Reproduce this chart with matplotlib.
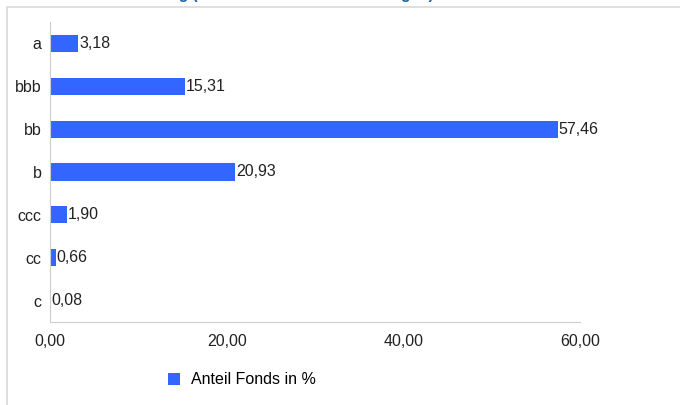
import matplotlib.pyplot as plt
from matplotlib.patches import Rectangle

plt.rcParams['font.family'] = ['Liberation Sans', 'DejaVu Sans']

# DATA
categories = ['a', 'bbb', 'bb', 'b', 'ccc', 'cc', 'c']
values = [3.18, 15.31, 57.46, 20.93, 1.90, 0.66, 0.08]
xticks = [0, 20, 40, 60]
series_name = 'Anteil Fonds in %'
title = 'Rating (Anteil in % am Fondsvermögen)'

bar_color = '#3366ff'
W, H = 680, 405

fig = plt.figure(figsize=(W / 100, H / 100), dpi=100)

# outer frame of the widget (cut off at right and bottom)
fig.add_artist(Rectangle((7 / W, -0.1), 1.1, (H - 7) / H + 0.1, transform=fig.transFigure,
                         fill=False, edgecolor='#d9d9d9', linewidth=1.2))

# title, cut off at the top edge (only descenders visible)
fig.text(140 / W, 1 + 1.2 / H, title, color='#1f5fa8',
         fontsize=11.2, fontweight='bold', ha='left', va='baseline')

ax = fig.add_axes([50 / W, (H - 322) / H, 530 / W, 300 / H])
ypos = list(range(len(categories)))
ax.barh(ypos, values, height=0.4, color=bar_color, label=series_name)
for y, v in zip(ypos, values):
    ax.text(v + 0.1, y, '{:.2f}'.format(v).replace('.', ','), va='center', ha='left',
            fontsize=11.5, color='#222222')

ax.set_xlim(0, 60)
ax.set_ylim(len(categories) - 0.5, -0.5)
ax.set_yticks(ypos)
ax.set_yticklabels(categories)
ax.set_xticks(xticks)
ax.set_xticklabels(['{:.2f}'.format(t).replace('.', ',') for t in xticks])
ax.tick_params(length=0, labelsize=11.5, colors='#222222')
ax.tick_params(axis='x', pad=9)
ax.tick_params(axis='y', pad=6)
for s in ['top', 'right']:
    ax.spines[s].set_visible(False)
for s in ['left', 'bottom']:
    ax.spines[s].set_color('#cccccc')

fig.legend(loc='center left', bbox_to_anchor=(154 / W, (H - 380) / H), frameon=False,
           fontsize=11.5, handlelength=0.7, handleheight=0.7, handletextpad=0.7)

fig.savefig('out.png', dpi=100)
